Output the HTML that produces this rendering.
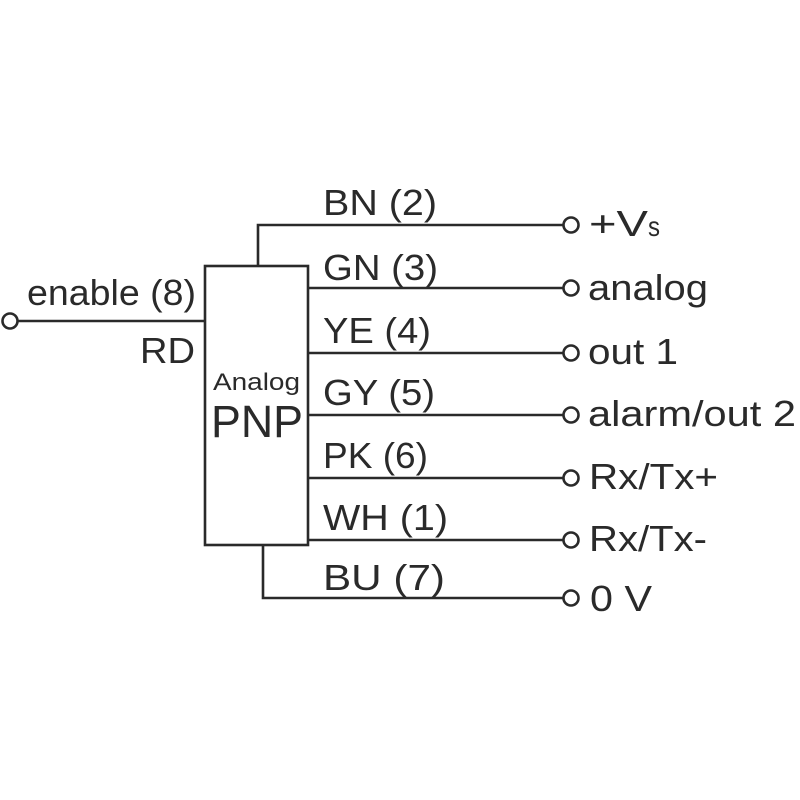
<!DOCTYPE html>
<html><head><meta charset="utf-8"><style>
html,body{margin:0;padding:0;background:#fff;}
svg{display:block}
text{font-family:"Liberation Sans",sans-serif;fill:#2a2a2a;font-size:36px}
</style></head><body>
<svg width="800" height="800" viewBox="0 0 800 800">
<g stroke="#2a2a2a" stroke-width="2.6" fill="none">
<rect x="205" y="266" width="103" height="279"/>
<polyline points="258,266 258,225 563,225"/>
<line x1="308" y1="288" x2="563" y2="288"/>
<line x1="308" y1="353" x2="563" y2="353"/>
<line x1="308" y1="415" x2="563" y2="415"/>
<line x1="308" y1="478" x2="563" y2="478"/>
<line x1="308" y1="540" x2="563" y2="540"/>
<polyline points="263,545 263,598 563,598"/>
<line x1="18" y1="321" x2="205" y2="321"/>
<circle cx="10" cy="321" r="7.5" fill="#fff"/>
<circle cx="571" cy="225" r="7.5" fill="#fff"/>
<circle cx="571" cy="288" r="7.5" fill="#fff"/>
<circle cx="571" cy="353" r="7.5" fill="#fff"/>
<circle cx="571" cy="415" r="7.5" fill="#fff"/>
<circle cx="571" cy="478" r="7.5" fill="#fff"/>
<circle cx="571" cy="540" r="7.5" fill="#fff"/>
<circle cx="571" cy="598" r="7.5" fill="#fff"/>
</g>
<text x="27" y="305" textLength="169" lengthAdjust="spacingAndGlyphs">enable (8)</text>
<text x="140" y="363" textLength="55" lengthAdjust="spacingAndGlyphs">RD</text>
<text x="213" y="390" style="font-size:24px" textLength="87" lengthAdjust="spacingAndGlyphs">Analog</text>
<text x="211" y="437" style="font-size:45px" textLength="92" lengthAdjust="spacingAndGlyphs">PNP</text>
<text x="323" y="215" textLength="114" lengthAdjust="spacingAndGlyphs">BN (2)</text>
<text x="323" y="280" textLength="115" lengthAdjust="spacingAndGlyphs">GN (3)</text>
<text x="323" y="343" textLength="108" lengthAdjust="spacingAndGlyphs">YE (4)</text>
<text x="323" y="405" textLength="112" lengthAdjust="spacingAndGlyphs">GY (5)</text>
<text x="323" y="468" textLength="105" lengthAdjust="spacingAndGlyphs">PK (6)</text>
<text x="323" y="530" textLength="125" lengthAdjust="spacingAndGlyphs">WH (1)</text>
<text x="323" y="590" textLength="122" lengthAdjust="spacingAndGlyphs">BU (7)</text>
<text x="589" y="236" textLength="59" lengthAdjust="spacingAndGlyphs">+V</text>
<text x="648" y="236" style="font-size:28px" textLength="12" lengthAdjust="spacingAndGlyphs">s</text>
<text x="588" y="300" textLength="120" lengthAdjust="spacingAndGlyphs">analog</text>
<text x="588" y="364" textLength="90" lengthAdjust="spacingAndGlyphs">out 1</text>
<text x="588" y="426" textLength="208" lengthAdjust="spacingAndGlyphs">alarm/out 2</text>
<text x="589" y="489" textLength="129" lengthAdjust="spacingAndGlyphs">Rx/Tx+</text>
<text x="589" y="551" textLength="118" lengthAdjust="spacingAndGlyphs">Rx/Tx-</text>
<text x="590" y="611" textLength="62" lengthAdjust="spacingAndGlyphs">0 V</text>
</svg>
</body></html>
